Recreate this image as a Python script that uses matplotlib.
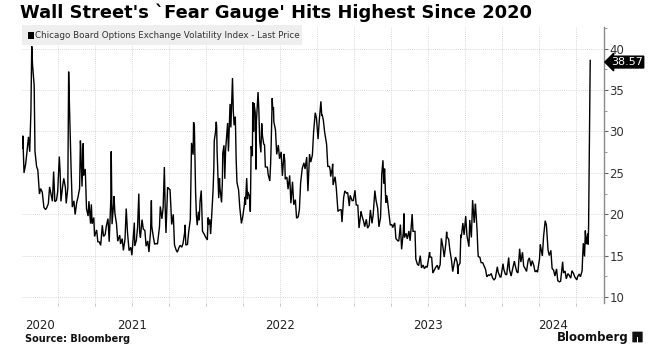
import matplotlib
matplotlib.use("Agg")
import matplotlib.pyplot as plt
import matplotlib.dates as mdates
from matplotlib import font_manager
from matplotlib.patches import Rectangle, FancyBboxPatch
from matplotlib.ticker import MultipleLocator
import pandas as pd

# VIX last price (roughly 2 points per week plus spikes)
dates_2020 = ["10-05", "10-06", "10-09", "10-13", "10-16", "10-20", "10-23", "10-26",
              "10-28", "10-30", "11-03", "11-05", "11-09", "11-12", "11-16", "11-19",
              "11-23", "11-27", "12-01", "12-04", "12-08", "12-11", "12-15", "12-18",
              "12-21", "12-24", "12-28", "12-31"]
vix_2020 = [27.96, 29.48, 25.00, 26.07, 27.41, 29.35, 27.55, 32.46,
            40.28, 38.02, 35.55, 27.58, 25.75, 25.35, 22.45, 23.11,
            22.66, 20.84, 20.57, 20.79, 21.30, 23.31, 22.29, 21.57,
            25.16, 21.53, 21.70, 22.75]

dates_2021 = ["01-04", "01-06", "01-08", "01-12", "01-15", "01-19", "01-21", "01-25",
              "01-27", "01-29", "02-02", "02-05", "02-09", "02-12", "02-16", "02-19",
              "02-23", "02-25", "02-26", "03-01", "03-04", "03-05", "03-09", "03-12",
              "03-16", "03-18", "03-22", "03-24", "03-26", "03-30", "04-01", "04-06",
              "04-09", "04-13", "04-16", "04-20", "04-23", "04-27", "04-30", "05-04",
              "05-07", "05-11", "05-12", "05-13", "05-14", "05-18", "05-19", "05-21",
              "05-25", "05-28", "06-02", "06-04", "06-08", "06-11", "06-15", "06-18",
              "06-21", "06-25", "06-29", "07-02", "07-08", "07-09", "07-13", "07-16",
              "07-19", "07-21", "07-23", "07-27", "07-30", "08-03", "08-06", "08-10",
              "08-13", "08-17", "08-19", "08-20", "08-24", "08-27", "08-31", "09-03",
              "09-08", "09-10", "09-14", "09-17", "09-20", "09-22", "09-24", "09-28",
              "09-30", "10-04", "10-06", "10-08", "10-12", "10-15", "10-19", "10-22",
              "10-26", "10-29", "11-02", "11-05", "11-09", "11-10", "11-12", "11-16",
              "11-19", "11-23", "11-26", "11-30", "12-01", "12-03", "12-06", "12-08",
              "12-10", "12-13", "12-15", "12-17", "12-20", "12-23", "12-28", "12-31"]
vix_2021 = [26.97, 25.07, 21.56, 23.33, 24.34, 23.24, 21.32, 23.19,
            37.21, 33.09, 25.56, 20.87, 21.63, 19.97, 21.46, 22.05,
            23.11, 28.89, 27.95, 23.35, 28.57, 24.66, 25.47, 20.69,
            19.79, 21.58, 18.88, 21.20, 18.86, 19.61, 17.33, 18.12,
            16.69, 16.65, 16.25, 18.68, 17.33, 17.56, 18.61, 19.48,
            16.69, 21.84, 27.59, 23.13, 18.81, 21.34, 22.18, 20.15,
            18.84, 16.76, 17.48, 16.42, 17.07, 15.65, 17.02, 20.70,
            17.89, 15.62, 16.02, 15.07, 19.00, 16.18, 16.87, 18.45,
            22.50, 17.91, 17.20, 19.36, 18.24, 18.04, 16.15, 16.79,
            15.45, 17.91, 21.67, 18.56, 17.22, 16.39, 16.48, 16.41,
            18.49, 20.95, 19.46, 20.81, 25.71, 20.87, 17.75, 23.25,
            23.14, 22.96, 21.00, 18.77, 20.00, 16.30, 15.70, 15.43,
            15.98, 16.26, 16.03, 16.48, 17.78, 18.73, 16.29, 16.37,
            17.91, 19.38, 28.62, 27.19, 31.12, 30.67, 22.70, 19.90,
            18.69, 20.31, 19.29, 21.57, 22.87, 17.96, 17.54, 17.22]

dates_2022 = ["01-04", "01-06", "01-07", "01-10", "01-12", "01-14", "01-18", "01-20",
              "01-21", "01-24", "01-26", "01-27", "01-28", "02-01", "02-03", "02-04",
              "02-08", "02-10", "02-11", "02-14", "02-16", "02-18", "02-23", "02-25",
              "03-01", "03-03", "03-04", "03-07", "03-09", "03-11", "03-14", "03-16",
              "03-18", "03-22", "03-25", "03-29", "04-01", "04-05", "04-07", "04-08",
              "04-11", "04-13", "04-14", "04-18", "04-20", "04-22", "04-25", "04-26",
              "04-28", "04-29", "05-02", "05-04", "05-05", "05-09", "05-11", "05-13",
              "05-16", "05-18", "05-20", "05-23", "05-25", "05-27", "06-01", "06-03",
              "06-07", "06-09", "06-10", "06-13", "06-14", "06-16", "06-17", "06-21",
              "06-24", "06-28", "07-01", "07-05", "07-08", "07-12", "07-14", "07-15",
              "07-19", "07-22", "07-26", "07-29", "08-02", "08-05", "08-09", "08-12",
              "08-16", "08-19", "08-22", "08-26", "08-30", "09-02", "09-06", "09-09",
              "09-13", "09-16", "09-20", "09-23", "09-27", "09-29", "09-30", "10-04",
              "10-07", "10-11", "10-13", "10-14", "10-17", "10-20", "10-21", "10-25",
              "10-28", "11-01", "11-03", "11-04", "11-08", "11-09", "11-10", "11-15",
              "11-18", "11-22", "11-25", "11-30", "12-02", "12-06", "12-09", "12-13",
              "12-16", "12-20", "12-22", "12-27", "12-30"]
vix_2022 = [16.91, 19.61, 18.76, 19.40, 17.62, 19.19, 22.79, 25.59,
            28.85, 29.90, 31.16, 30.49, 27.66, 21.96, 24.35, 23.22,
            21.44, 23.91, 27.36, 28.33, 24.29, 27.75, 31.02, 27.59,
            33.32, 30.48, 31.98, 36.45, 32.45, 30.75, 31.77, 26.67,
            23.87, 22.94, 20.81, 18.90, 19.63, 21.03, 22.10, 21.16,
            24.37, 21.82, 22.70, 22.17, 20.32, 28.21, 27.02, 33.52,
            29.99, 33.40, 32.34, 25.42, 31.20, 34.75, 32.56, 28.87,
            27.47, 30.96, 29.43, 28.48, 28.37, 25.72, 25.69, 24.79,
            24.02, 26.09, 27.75, 34.02, 32.69, 32.95, 31.13, 30.19,
            27.23, 28.36, 26.70, 27.54, 24.64, 27.29, 26.40, 24.23,
            24.50, 23.03, 24.69, 21.33, 23.93, 21.15, 21.77, 19.53,
            19.69, 20.60, 23.80, 25.56, 26.21, 25.47, 26.91, 22.79,
            27.27, 26.30, 27.16, 29.92, 32.26, 31.84, 31.62, 29.07,
            31.36, 33.63, 31.94, 32.02, 31.37, 29.98, 29.69, 28.46,
            25.75, 25.81, 25.30, 24.55, 25.54, 26.09, 23.53, 24.54,
            23.12, 20.35, 20.50, 20.58, 19.06, 22.00, 22.83, 22.55,
            22.62, 21.00, 22.29, 21.65, 21.67]

dates_2023 = ["01-03", "01-06", "01-10", "01-13", "01-18", "01-20", "01-24", "01-27",
              "01-31", "02-02", "02-03", "02-07", "02-10", "02-14", "02-17", "02-21",
              "02-24", "02-28", "03-03", "03-07", "03-09", "03-10", "03-13", "03-15",
              "03-17", "03-20", "03-22", "03-24", "03-28", "03-31", "04-04", "04-06",
              "04-11", "04-14", "04-18", "04-21", "04-25", "04-28", "05-02", "05-04",
              "05-05", "05-09", "05-12", "05-16", "05-19", "05-24", "05-26", "05-31",
              "06-02", "06-06", "06-09", "06-13", "06-16", "06-20", "06-23", "06-27",
              "06-30", "07-06", "07-07", "07-11", "07-14", "07-18", "07-21", "07-25",
              "07-28", "08-01", "08-04", "08-08", "08-11", "08-15", "08-17", "08-18",
              "08-22", "08-25", "08-29", "09-01", "09-06", "09-08", "09-12", "09-14",
              "09-15", "09-19", "09-21", "09-22", "09-26", "09-29", "10-03", "10-06",
              "10-11", "10-13", "10-17", "10-20", "10-24", "10-26", "10-27", "10-31",
              "11-02", "11-03", "11-07", "11-10", "11-14", "11-17", "11-21", "11-24",
              "11-28", "12-01", "12-05", "12-08", "12-12", "12-15", "12-20", "12-22",
              "12-27", "12-29"]
vix_2023 = [22.90, 21.13, 21.09, 18.35, 20.34, 19.85, 19.20, 18.51,
            19.40, 18.73, 18.33, 18.66, 20.53, 18.91, 20.02, 22.87,
            21.67, 20.70, 18.49, 19.59, 22.61, 24.80, 26.52, 23.73,
            25.51, 21.38, 22.26, 21.74, 19.97, 18.70, 18.76, 18.40,
            18.97, 17.07, 16.83, 16.77, 18.76, 15.78, 17.78, 20.09,
            17.19, 17.71, 17.03, 17.99, 16.81, 20.03, 17.95, 17.94,
            14.60, 13.96, 13.83, 15.01, 13.54, 13.88, 13.44, 13.74,
            13.59, 15.44, 14.83, 14.84, 12.91, 13.30, 13.60, 13.86,
            13.33, 13.93, 17.10, 15.99, 14.84, 16.46, 17.89, 17.30,
            16.97, 15.68, 14.45, 13.09, 14.45, 14.84, 14.23, 12.82,
            13.79, 14.11, 17.54, 17.20, 18.94, 17.52, 19.78, 17.45,
            16.09, 19.32, 17.21, 21.71, 18.97, 20.68, 21.27, 18.14,
            15.66, 14.91, 14.81, 14.17, 14.16, 13.80, 13.35, 12.46,
            12.69, 12.63, 12.85, 12.35, 12.07, 12.28, 13.67, 13.03,
            12.43, 12.45]

dates_2024 = ["01-03", "01-05", "01-09", "01-12", "01-17", "01-19", "01-23", "01-26",
              "01-31", "02-02", "02-06", "02-09", "02-13", "02-16", "02-20", "02-23",
              "02-27", "03-01", "03-05", "03-08", "03-12", "03-15", "03-19", "03-22",
              "03-26", "03-28", "04-02", "04-04", "04-05", "04-09", "04-12", "04-16",
              "04-19", "04-23", "04-26", "04-30", "05-03", "05-07", "05-10", "05-14",
              "05-17", "05-21", "05-24", "05-29", "05-31", "06-04", "06-07", "06-11",
              "06-14", "06-18", "06-21", "06-25", "06-28", "07-03", "07-05", "07-09",
              "07-12", "07-16", "07-17", "07-19", "07-22", "07-24", "07-26", "07-30",
              "07-31", "08-01", "08-02", "08-05"]
vix_2024 = [14.04, 13.35, 12.76, 12.70, 14.79, 13.30, 12.55, 13.26,
            14.35, 13.85, 13.06, 12.93, 15.85, 14.24, 15.42, 13.75,
            13.43, 13.11, 14.46, 14.74, 13.75, 14.41, 13.82, 13.06,
            13.24, 13.01, 14.61, 16.35, 16.03, 14.98, 17.31, 19.23,
            18.71, 15.69, 15.03, 15.65, 13.49, 13.23, 12.55, 13.42,
            11.99, 11.86, 11.93, 14.28, 12.92, 13.16, 12.22, 12.85,
            12.66, 12.30, 13.20, 12.84, 12.44, 12.09, 12.48, 12.79,
            12.46, 13.19, 14.48, 16.52, 14.91, 18.04, 16.39, 17.69,
            16.36, 18.59, 23.39, 38.57]

years = [2020, 2021, 2022, 2023, 2024]
dates_by_year = [dates_2020, dates_2021, dates_2022, dates_2023, dates_2024]
vix_by_year = [vix_2020, vix_2021, vix_2022, vix_2023, vix_2024]

title = "Wall Street's `Fear Gauge' Hits Highest Since 2020"
legend_label = "Chicago Board Options Exchange Volatility Index - Last Price"
source = "Source: Bloomberg"

dates = []
values = []
for yr, ds, vs in zip(years, dates_by_year, vix_by_year):
    dates += [pd.Timestamp(f"{yr}-{d}") for d in ds]
    values += vs
s = pd.Series(values, index=dates)

names = {f.name for f in font_manager.fontManager.ttflist}
narrow = "Liberation Sans Narrow" if "Liberation Sans Narrow" in names else "DejaVu Sans"

W, H = 663, 358
fig = plt.figure(figsize=(W / 100, H / 100), dpi=100)
fig.patch.set_facecolor("white")


def fx(px):
    return px / W


def fy(py):
    return 1 - py / H


ax = fig.add_axes([fx(22), fy(303), fx(604) - fx(22), fy(27) - fy(303)])
ax.plot(s.index, s.values, color="black", lw=1.0, solid_joinstyle="miter")

x0, x1 = pd.Timestamp("2020-10-04"), pd.Timestamp("2024-09-08")
ax.set_xlim(x0, x1)
ax.set_ylim(9.3, 42.6)

# quarter gridlines / ticks
ax.xaxis.set_major_locator(mdates.MonthLocator(bymonth=[1, 4, 7, 10]))
ax.xaxis.set_major_formatter(plt.NullFormatter())
ax.yaxis.set_major_locator(MultipleLocator(5))
ax.yaxis.set_minor_locator(MultipleLocator(2.5))
ax.grid(True, which="major", color="#cccccc", lw=0.6, ls=(0, (1, 1.5)))
ax.set_axisbelow(True)

for side in ["left", "top", "bottom"]:
    ax.spines[side].set_visible(False)
ax.spines["right"].set_color("#8a8a8a")
ax.spines["right"].set_linewidth(1.0)

ax.yaxis.tick_right()
ax.tick_params(axis="y", which="major", direction="out", length=3, width=0.8,
               color="#666666", labelsize=8.5, labelcolor="#333333", pad=1)
ax.tick_params(axis="y", which="minor", direction="out", length=2, width=0.6,
               color="#888888")
ax.tick_params(axis="x", which="major", direction="out", length=2, width=0.6,
               color="#bbbbbb")
for lab in ax.get_yticklabels():
    lab.set_fontfamily(narrow)

# year labels centred on the visible part of each year
for yr in years:
    a = max(pd.Timestamp(f"{yr}-01-01"), x0)
    b = min(pd.Timestamp(f"{yr + 1}-01-01"), x1)
    mid = a + (b - a) / 2
    ax.text(mid, -0.08, str(yr), transform=ax.get_xaxis_transform(),
            ha="center", va="center", fontsize=8.5, color="#222222",
            family=narrow)

# last price tag
last = s.iloc[-1]
ax.annotate(f"{last:.2f}", xy=(1.0, last), xycoords=("axes fraction", "data"),
            xytext=(5, -1.2), textcoords="offset points", ha="left", va="center",
            fontsize=8, color="white", family=narrow,
            bbox=dict(boxstyle="larrow,pad=0.08", fc="black", ec="black"),
            annotation_clip=False)

# title
fig.text(fx(20), fy(13), title, ha="left", va="center", fontsize=12.9,
         fontweight="bold", color="black")

# legend box
fig.patches.append(Rectangle((fx(22), fy(45)), fx(302) - fx(22), fy(25) - fy(45),
                             transform=fig.transFigure, fc="#eeeeee", ec="none",
                             zorder=5))
fig.patches.append(Rectangle((fx(28), fy(38.5)), fx(6), fy(0) - fy(6),
                             transform=fig.transFigure, fc="black", ec="none",
                             zorder=6))
fig.text(fx(35), fy(35.5), legend_label, ha="left", va="center", fontsize=6.3,
         color="#333333", family=narrow, zorder=7)

# footer
fig.text(fx(25), fy(339), source, ha="left", va="center", fontsize=7,
         fontweight="bold", color="#111111")
fig.text(fx(629), fy(337), "Bloomberg", ha="right", va="center", fontsize=8.5,
         fontweight="bold", color="#111111")
fig.patches.append(FancyBboxPatch((fx(633), fy(342)), fx(9), fy(0) - fy(10),
                                  boxstyle="round,pad=0.001",
                                  transform=fig.transFigure, fc="#111111",
                                  ec="none"))
fig.patches.append(Rectangle((fx(637), fy(343.5)), fx(1.2), fy(0) - fy(7),
                             transform=fig.transFigure, fc="white", ec="none"))

fig.savefig("out.png", dpi=100)
